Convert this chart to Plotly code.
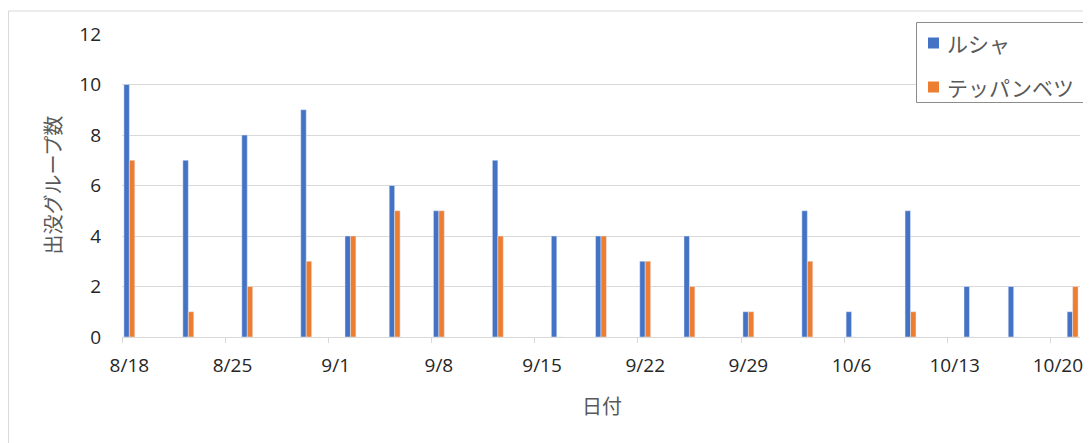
import plotly.graph_objects as go

dates = ["2021-08-18", "2021-08-22", "2021-08-26", "2021-08-30", "2021-09-02",
         "2021-09-05", "2021-09-08", "2021-09-12", "2021-09-16", "2021-09-19",
         "2021-09-22", "2021-09-25", "2021-09-29", "2021-10-03", "2021-10-06",
         "2021-10-10", "2021-10-14", "2021-10-17", "2021-10-21"]
rusha = [10, 7, 8, 9, 4, 6, 5, 7, 4, 4, 3, 4, 1, 5, 1, 5, 2, 2, 1]
teppanbetsu = [7, 1, 2, 3, 4, 5, 5, 4, 0, 4, 3, 2, 1, 3, 0, 1, 0, 0, 2]
series_names = ["ルシャ", "テッパンベツ"]
series_colors = ["#4472C4", "#ED7D31"]
tick_dates = ["2021-08-18", "2021-08-25", "2021-09-01", "2021-09-08", "2021-09-15",
              "2021-09-22", "2021-09-29", "2021-10-06", "2021-10-13", "2021-10-20"]
tick_labels = ["8/18", "8/25", "9/1", "9/8", "9/15", "9/22", "9/29", "10/6", "10/13", "10/20"]

DAY = 86400000
OFF = 8  # page body margin
W, H = 1091 - OFF, 443 - OFF
# plot area in window pixels: x 122..1080, y 34..337
L, R, T, B = 122 - OFF, W - (1080 - OFF), 34 - OFF, H - (337 - OFF)
pw, ph = W - L - R, H - T - B

def px(x):
    return (x - OFF - L) / pw

def py(y):
    return (H - B - (y - OFF)) / ph

TXT = "#262626"
GRY = "#595959"
FONT = "Open Sans, Noto Sans CJK JP, sans-serif"
JFONT = "Noto Sans CJK JP, sans-serif"

bw = 0.37 * DAY
fig = go.Figure()
fig.add_trace(go.Bar(x=dates, y=rusha, name=series_names[0], marker_color=series_colors[0],
                     width=bw, offset=-bw, showlegend=False))
fig.add_trace(go.Bar(x=dates, y=teppanbetsu, name=series_names[1], marker_color=series_colors[1],
                     width=bw, offset=0, showlegend=False))

shapes = [
    dict(type="rect", xref="paper", yref="paper",
         x0=px(8.5), x1=px(1100), y0=py(455), y1=py(11),
         line=dict(color="#d9d9d9", width=1), layer="below"),
    # legend box
    dict(type="rect", xref="paper", yref="paper",
         x0=px(916.5), x1=px(1100), y0=py(102.5), y1=py(22.5),
         line=dict(color="#8c8c8c", width=1), fillcolor="white", layer="above"),
]
annotations = [
    dict(text="出没グループ数", xref="paper", yref="paper", x=px(52), y=0.5,
         xanchor="center", yanchor="middle", textangle=-90, showarrow=False,
         font=dict(family=JFONT, size=20, color=GRY)),
    dict(text="日付", xref="paper", yref="paper", x=px(602), y=py(405),
         xanchor="center", yanchor="middle", showarrow=False,
         font=dict(family=JFONT, size=20, color=GRY)),
]
leg_rows = [43, 87]
for name, color, yc in zip(series_names, series_colors, leg_rows):
    shapes.append(dict(type="rect", xref="paper", yref="paper",
                       x0=px(928), x1=px(939), y0=py(yc + 5.5), y1=py(yc - 5.5),
                       line=dict(width=0), fillcolor=color, layer="above"))
    annotations.append(dict(text=name, xref="paper", yref="paper", x=px(945), y=py(yc),
                            xanchor="left", yanchor="middle", showarrow=False,
                            font=dict(family=JFONT, size=21, color=GRY)))

fig.update_layout(
    width=W, height=H,
    margin=dict(l=L, r=R, t=T, b=B, autoexpand=False),
    barmode="overlay",
    plot_bgcolor="white", paper_bgcolor="white",
    font=dict(family=FONT, color=TXT, size=19),
    showlegend=False,
    xaxis=dict(
        type="date",
        range=["2021-08-17 12:00", "2021-10-21 12:00"],
        tickvals=tick_dates, ticktext=tick_labels,
        ticks="", showgrid=False,
        showline=True, linecolor="#d9d9d9", linewidth=1,
        ticklabelstandoff=11, automargin=False,
        tickfont=dict(size=19, color=TXT),
        minor=dict(ticks="outside", tick0="2021-08-17 12:00", dtick=7 * DAY,
                   ticklen=5, tickcolor="#d9d9d9", showgrid=False),
    ),
    yaxis=dict(
        range=[0, 12], dtick=2,
        showgrid=True, gridcolor="#d9d9d9", gridwidth=1,
        zeroline=False, showline=False, ticks="",
        ticklabelstandoff=20, automargin=False,
        tickfont=dict(size=19, color=TXT),
    ),
    annotations=annotations,
    shapes=shapes,
)

fig.write_html("out.html")
